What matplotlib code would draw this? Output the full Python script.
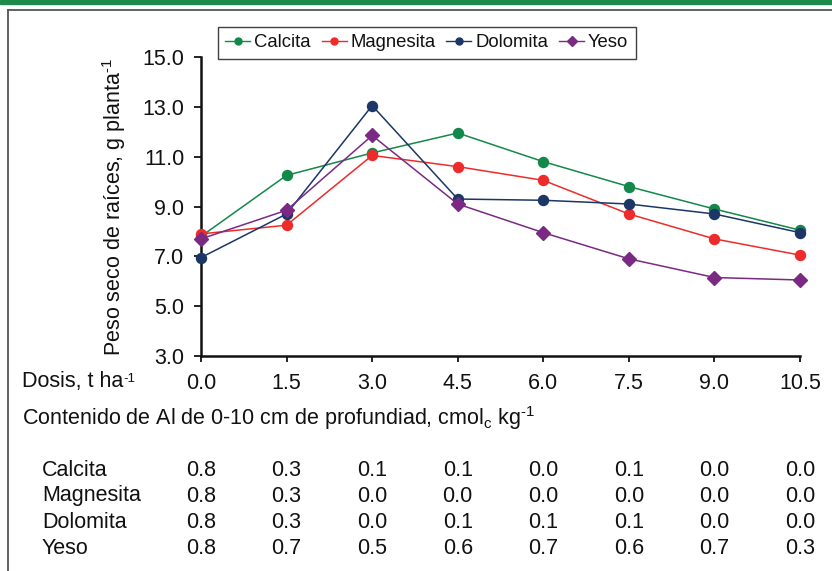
import matplotlib
matplotlib.use("Agg")
import matplotlib.pyplot as plt
from matplotlib.lines import Line2D
from matplotlib.patches import Rectangle

plt.rcParams['font.family'] = ['Liberation Sans', 'DejaVu Sans']
plt.rcParams['mathtext.fontset'] = 'custom'
plt.rcParams['mathtext.rm'] = 'Liberation Sans'
plt.rcParams['mathtext.it'] = 'Liberation Sans'

dosis = ["0.0", "1.5", "3.0", "4.5", "6.0", "7.5", "9.0", "10.5"]
series_names = ["Calcita", "Magnesita", "Dolomita", "Yeso"]
calcita = [7.8, 10.25, 11.15, 11.95, 10.8, 9.8, 8.9, 8.05]
magnesita = [7.9, 8.25, 11.05, 10.6, 10.05, 8.7, 7.7, 7.05]
dolomita = [6.95, 8.7, 13.05, 9.3, 9.25, 9.1, 8.7, 7.95]
yeso = [7.7, 8.85, 11.85, 9.1, 7.95, 6.9, 6.15, 6.05]

al_calcita = ["0.8", "0.3", "0.1", "0.1", "0.0", "0.1", "0.0", "0.0"]
al_magnesita = ["0.8", "0.3", "0.0", "0.0", "0.0", "0.0", "0.0", "0.0"]
al_dolomita = ["0.8", "0.3", "0.0", "0.1", "0.1", "0.1", "0.0", "0.0"]
al_yeso = ["0.8", "0.7", "0.5", "0.6", "0.7", "0.6", "0.7", "0.3"]

colors = ["#14884a", "#ee2b2b", "#1b3667", "#7a2a82"]
markers = ["o", "o", "o", "D"]

W, H = 832, 571
FS = 15.5
TXT = "#111111"
fig = plt.figure(figsize=(W / 100, H / 100), dpi=100)

def fx(px):
    return px / W

def fy(py):
    return 1 - py / H

# top green band and frame
fig.patches.append(Rectangle((0, fy(4)), 1, 4 / H, transform=fig.transFigure,
                             color="#1e8a4e", zorder=0))
fig.add_artist(Line2D([fx(8), fx(8)], [fy(10), 0], transform=fig.transFigure,
                      color="#555555", lw=1.3))
fig.add_artist(Line2D([fx(8), 1], [fy(10), fy(10)], transform=fig.transFigure,
                      color="#555555", lw=1.3))

ax = fig.add_axes([fx(201), fy(356), fx(800) - fx(201), (356 - 57) / H])
x = list(range(len(dosis)))
all_series = [calcita, magnesita, dolomita, yeso]
handles = []
for name, vals, c, m in zip(series_names, all_series, colors, markers):
    ms = 7.2 if m == "o" else 7.2
    ax.plot(x, vals, color=c, lw=1.1, marker=m, ms=ms, clip_on=False,
            markeredgecolor=c, label=name, zorder=3)
    handles.append(Line2D([], [], color=c, lw=1.0, marker=m,
                          ms=5.0 if m == "o" else 5.2, markeredgecolor=c))

ax.set_xlim(0, 7)
ax.set_ylim(3, 15)
ax.set_yticks([3, 5, 7, 9, 11, 13, 15])
ax.set_yticklabels(["3.0", "5.0", "7.0", "9.0", "11.0", "13.0", "15.0"])
ax.set_xticks(x)
ax.set_xticklabels(dosis)
for s in ["top", "right"]:
    ax.spines[s].set_visible(False)
for s in ["left", "bottom"]:
    ax.spines[s].set_linewidth(1.8)
    ax.spines[s].set_color(TXT)
ax.tick_params(axis="y", direction="out", length=5, width=1.3, pad=7,
               labelsize=FS, colors=TXT)
ax.tick_params(axis="x", direction="out", length=4.5, width=1.3, pad=8,
               labelsize=FS, colors=TXT)
ax.set_ylabel("Peso seco de raíces, g planta$^{\\text{-1}}$", fontsize=FS,
              color=TXT)
ax.yaxis.set_label_coords((128 - 201) / (800 - 201), 0.5)

leg = fig.legend(handles, series_names, loc="upper left",
                 bbox_to_anchor=(fx(218), fy(27)), ncol=4, fontsize=13.3,
                 frameon=True, fancybox=False, edgecolor=TXT,
                 handlelength=1.35, handletextpad=0.22, columnspacing=0.58,
                 borderpad=0.4, borderaxespad=0)
leg.get_frame().set_linewidth(1.0)
for t in leg.get_texts():
    t.set_color(TXT)

dtxt = fig.text(fx(22), fy(382), "Dosis, t ha", fontsize=FS, ha="left",
                va="center", color=TXT)
ax.annotate("-1", xy=(1, 0.95), xycoords=dtxt, fontsize=9.5, ha="left",
            va="top", color=TXT, annotation_clip=False)
fig.text(fx(22), fy(418),
         "Contenido de Al de 0-10 cm de profundiad, cmol$_{\\mathregular{c}}$ kg$^{\\text{-1}}$",
         fontsize=FS, ha="left", va="center", color=TXT)

rows = [al_calcita, al_magnesita, al_dolomita, al_yeso]
row_y = [471, 496, 522, 548]
xdisp = [201 + i * (800 - 201) / 7 for i in range(len(dosis))]
for name, vals, yy in zip(series_names, rows, row_y):
    fig.text(fx(42), fy(yy), name, fontsize=FS, ha="left", va="center",
             color=TXT)
    for xv, v in zip(xdisp, vals):
        fig.text(fx(xv), fy(yy), v, fontsize=FS, ha="center", va="center",
                 color=TXT)

fig.savefig("out.png", dpi=100)
